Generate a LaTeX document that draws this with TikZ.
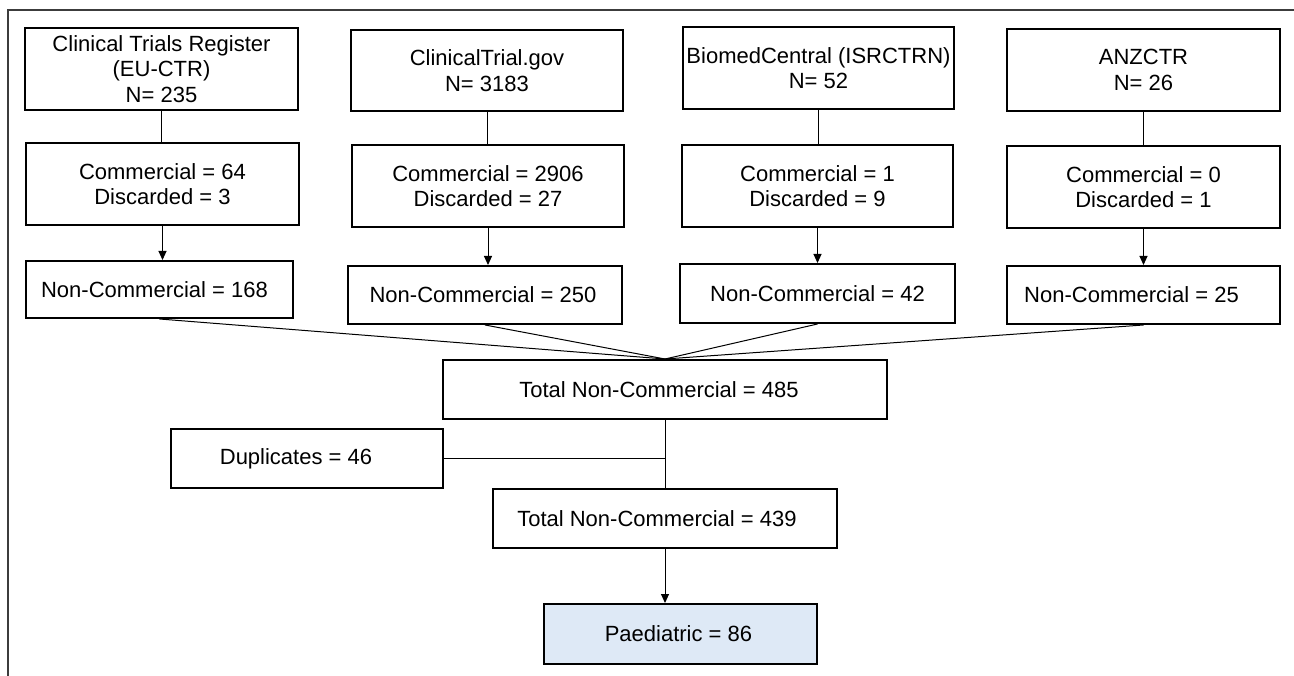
\documentclass[tikz,border=0pt]{standalone}
\usepackage{fontspec}
\setmainfont{Liberation Sans}
\usetikzlibrary{arrows.meta}
\definecolor{paedfill}{RGB}{222,233,246}
\definecolor{framegray}{RGB}{60,60,60}
\tikzset{
  box/.style={draw=black, line width=2pt, fill=white, inner sep=0pt, align=center,
    font=\fontsize{22}{25.5}\selectfont},
  link/.style={draw=black, line width=1pt},
  arrowlink/.style={link, -{Triangle[length=9pt,width=8pt]}},
  frameline/.style={draw=framegray, line width=1.5pt}
}
% \bx{name}{x1}{y1}{x2}{y2}{text}
\newcommand{\bx}[7][]{%
  \pgfmathsetmacro{\bw}{#5-#3}\pgfmathsetmacro{\bh}{#6-#4}%
  \pgfmathsetmacro{\cx}{(#3+#5)/2}\pgfmathsetmacro{\cy}{(#4+#6)/2}%
  \node[box, minimum width=\bw pt, minimum height=\bh pt, #1] (#2) at (\cx,\cy) {#7};}
\begin{document}
\begin{tikzpicture}[x=1pt, y=-1pt]
\useasboundingbox (0,0) rectangle (1294,676);
% frame (top and left only)
\coordinate (fTL) at (8,10);
\coordinate (fTR) at (1294,10);
\coordinate (fBL) at (8,676);
\draw[frameline] (fTR) -- (fTL) -- (fBL);

% column 1
\bx{A1}{25}{28}{298}{110}{Clinical Trials Register\\(EU-CTR)\\N= 235}
\bx{B1}{26}{143}{299}{225}{Commercial = 64\\Discarded = 3}
\bx{C1}{26}{261}{293}{318}{Non-Commercial = 168\hspace*{10pt}}
% column 2
\bx{A2}{351}{30}{623}{111}{ClinicalTrial.gov\\N= 3183}
\bx{B2}{352}{145}{624}{227}{Commercial = 2906\\Discarded = 27}
\bx{C2}{348}{266}{622}{324}{Non-Commercial = 250\hspace*{4pt}}
% column 3
\bx{A3}{683}{27}{954}{109}{BiomedCentral (ISRCTRN)\\N= 52}
\bx{B3}{682}{145}{953}{227}{Commercial = 1\\Discarded = 9}
\bx{C3}{680}{264}{955}{323}{Non-Commercial = 42}
% column 4
\bx{A4}{1007}{29}{1280}{111}{ANZCTR\\N= 26}
\bx{B4}{1007}{146}{1280}{228}{Commercial = 0\\Discarded = 1}
\bx{C4}{1007}{266}{1280}{324}{Non-Commercial = 25\hspace*{24pt}}
% lower part
\bx{T485}{443}{360}{887}{419}{Total Non-Commercial = 485\hspace*{12pt}}
\bx{Dup}{171}{429}{443}{488}{Duplicates = 46\hspace*{22pt}}
\bx{T439}{493}{489}{837}{548}{Total Non-Commercial = 439\hspace*{16pt}}
\bx[fill=paedfill]{Paed}{544}{604}{817}{664}{Paediatric = 86\hspace*{4pt}}

% connectors
\foreach \c in {1,2,3,4}{
  \draw[link] (A\c.south) -- (A\c.south |- B\c.north);
  \draw[arrowlink] (B\c.south) -- (B\c.south |- C\c.north);
  \draw[link] (C\c.south) -- (T485.north);
}
\draw[link] (T485.south) -- (T485.south |- T439.north);
\draw[link] (Dup.east) -- (Dup.east -| T485.south);
\draw[arrowlink] (T439.south) -- (T439.south |- Paed.north);
\end{tikzpicture}
\end{document}
